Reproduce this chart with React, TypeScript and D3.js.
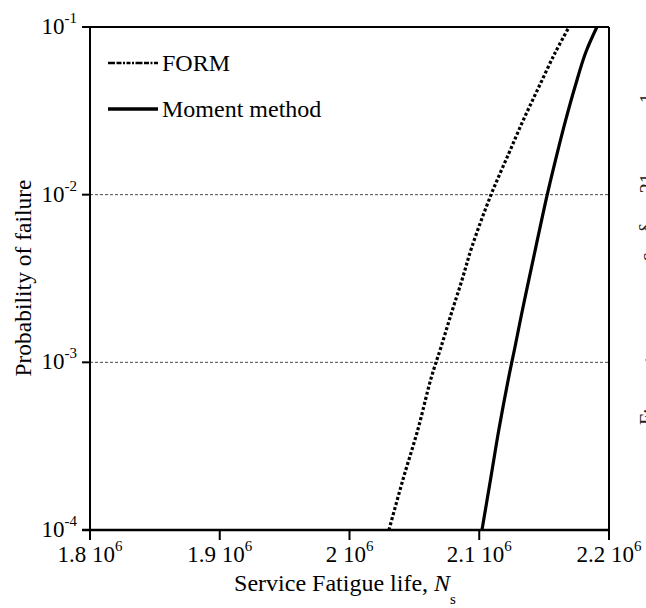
import React from "react";
import * as d3 from "d3";

// probability levels (shared by both curves)
const pfLevels = [1e-4, 2e-4, 4e-4, 8e-4, 1.23e-3, 1.97e-3, 3.1e-3, 4.9e-3, 1e-2, 1.77e-2, 2.8e-2, 4.4e-2, 7e-2, 1e-1];
// service fatigue life at each level
const formLife = [2.0304e6, 2.0412e6, 2.0528e6, 2.0628e6, 2.0705e6, 2.0786e6, 2.0867e6, 2.0944e6, 2.1091e6, 2.1229e6, 2.1341e6, 2.146e6, 2.1584e6, 2.1692e6];
const momentLife = [2.1021e6, 2.1087e6, 2.1152e6, 2.1225e6, 2.1275e6, 2.1328e6, 2.1382e6, 2.1437e6, 2.1524e6, 2.1601e6, 2.1667e6, 2.1738e6, 2.1819e6, 2.1907e6];

const xTicks = [1.8e6, 1.9e6, 2.0e6, 2.1e6, 2.2e6];
const xTickLabels = ["1.8", "1.9", "2", "2.1", "2.2"];
const yTicks = [1e-4, 1e-3, 1e-2, 1e-1];
const yTickExp = ["-4", "-3", "-2", "-1"];
const gridLevels = [1e-3, 1e-2];

const W = 646;
const H = 608;
const left = 90, right = 609, top = 27, bottom = 530;
const font = "'Liberation Serif', 'Times New Roman', serif";
const sp = (n: number) => "\u00A0".repeat(n);

export default function App() {
  const x = d3.scaleLinear().domain([1.8e6, 2.2e6]).range([left, right]);
  const y = d3.scaleLog().domain([1e-4, 1e-1]).range([bottom, top]);

  const line = d3
    .line<[number, number]>()
    .x((d) => x(d[0]))
    .y((d) => y(d[1]))
    .curve(d3.curveCatmullRom.alpha(0.5));

  const formPath = line(formLife.map((n, i) => [n, pfLevels[i]]));
  const momentPath = line(momentLife.map((n, i) => [n, pfLevels[i]]));

  return (
    <svg
      width={W}
      height={H}
      style={{ position: "absolute", left: 0, top: 0, background: "#fff" }}
      fontFamily={font}
    >
      <rect x={0} y={0} width={W} height={H} fill="#fff" />

      {/* dotted grid at 10^-2 and 10^-3 */}
      {gridLevels.map((g) => (
        <line key={g} x1={left} x2={right} y1={y(g)} y2={y(g)} stroke="#333" strokeWidth={0.9} strokeDasharray="3 2" />
      ))}

      {/* curves */}
      <path d={formPath || ""} fill="none" stroke="#000" strokeWidth={3.2} strokeDasharray="3 2.2" />
      <path d={momentPath || ""} fill="none" stroke="#000" strokeWidth={3.2} />

      {/* frame */}
      <line x1={left} x2={left} y1={top} y2={bottom} stroke="#000" strokeWidth={2} />
      <line x1={left - 8} x2={right} y1={top} y2={top} stroke="#000" strokeWidth={2} />
      <line x1={right} x2={right} y1={top} y2={bottom + 10} stroke="#000" strokeWidth={2} />
      <line x1={left - 8} x2={right} y1={bottom} y2={bottom} stroke="#000" strokeWidth={2.6} />

      {/* y ticks */}
      {yTicks.map((t, i) => (
        <g key={t}>
          <line x1={left - 8} x2={left} y1={y(t)} y2={y(t)} stroke="#000" strokeWidth={2} />
          <text x={left - 13} y={y(t) + 7} textAnchor="end" fontSize={23}>
            10
            <tspan fontSize={15} dy={-11}>{yTickExp[i]}</tspan>
          </text>
        </g>
      ))}

      {/* x ticks */}
      {xTicks.map((t, i) => (
        <g key={t}>
          <line x1={x(t)} x2={x(t)} y1={bottom} y2={bottom + 10} stroke="#000" strokeWidth={2} />
          <text x={x(t)} y={bottom + 32} textAnchor="middle" fontSize={23}>
            {xTickLabels[i]} 10
            <tspan fontSize={15} dy={-11}>6</tspan>
          </text>
        </g>
      ))}

      {/* axis titles */}
      <text x={345} y={591} textAnchor="middle" fontSize={24}>
        Service Fatigue life, <tspan fontStyle="italic">N</tspan>
        <tspan fontSize={15} dy={13}>s</tspan>
      </text>
      <text transform={`translate(31,${278}) rotate(-90)`} textAnchor="middle" fontSize={23.5}>
        Probability of failure
      </text>

      {/* legend */}
      <line x1={108} x2={158} y1={63} y2={63} stroke="#000" strokeWidth={2.6} strokeDasharray="7 1.5 5 1.5 2 1.5 4 1.5 2 1.5" />
      <text x={162} y={71} fontSize={24}>FORM</text>
      <line x1={108} x2={158} y1={109} y2={109} stroke="#000" strokeWidth={3.6} />
      <text x={162} y={117} fontSize={24}>Moment method</text>

      {/* clipped label of the neighbouring figure */}
      <text transform={`translate(654,${425}) rotate(-90)`} fontSize={20} fill="#222">
        {"F:" + sp(9) + "·" + sp(19) + "c" + sp(4) + "δ" + sp(6) + "21" + sp(14) + "1"}
      </text>
    </svg>
  );
}
